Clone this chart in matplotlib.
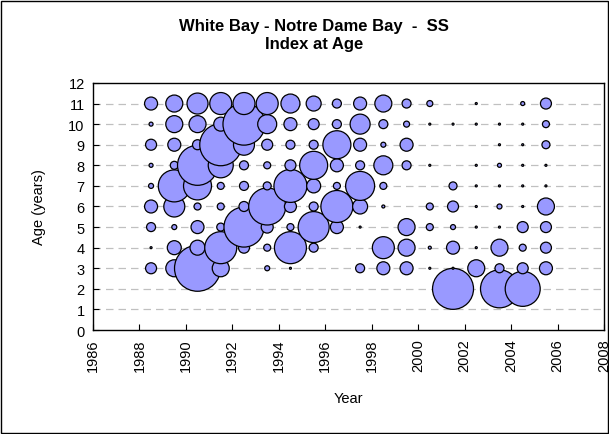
import numpy as np
import matplotlib
matplotlib.use("Agg")
import matplotlib.pyplot as plt
from matplotlib.patches import Rectangle

plt.rcParams['font.family'] = ['Liberation Sans', 'DejaVu Sans']

# survey years (bubbles sit at mid-year)
years = [1988.5, 1989.5, 1990.5, 1991.5, 1992.5, 1993.5, 1994.5, 1995.5, 1996.5,
         1997.5, 1998.5, 1999.5, 2000.5, 2001.5, 2002.5, 2003.5, 2004.5, 2005.5]
ages = [1, 2, 3, 4, 5, 6, 7, 8, 9, 10, 11]

# index at age, one list per age (0 = no catch)
idx_age1 = [0, 0, 0, 0, 0, 0, 0, 0, 0, 0, 0, 0, 0, 0, 0, 0, 0, 0]
idx_age2 = [0, 0, 0, 0, 0, 0, 0, 0, 0, 0, 0, 0, 0, 16.8, 0, 14.4, 12.25, 0]
idx_age3 = [1.21, 2.89, 21.16, 2.89, 0, 0.25, 0.04, 0, 0, 0.81, 1.69, 1.69, 0.04, 0.04, 2.89, 0.81, 1.21, 1.69]
idx_age4 = [0.04, 1.96, 2.25, 10.24, 1.21, 0.49, 10.24, 0.81, 0, 0, 4.84, 2.89, 0.09, 1.69, 0.04, 2.89, 0.49, 1.21]
idx_age5 = [0.81, 0.25, 1.69, 0.64, 16.0, 1.44, 0.49, 9.61, 1.69, 0.04, 0, 2.89, 0.49, 0.25, 0.04, 0.04, 1.21, 1.21]
idx_age6 = [1.69, 4.41, 0.49, 0.49, 1.0, 13.69, 1.44, 0.81, 10.24, 2.25, 0.09, 0, 0.49, 1.21, 0.04, 0.25, 0.04, 2.89]
idx_age7 = [0.25, 10.24, 7.84, 0.49, 0.81, 0.64, 10.89, 1.96, 0.49, 8.41, 0.49, 0, 0, 0.64, 0.04, 0.04, 0.04, 0.04]
idx_age8 = [0.16, 0.64, 16.0, 6.25, 0.81, 0.49, 1.21, 7.84, 1.69, 0.81, 3.61, 0.81, 0.04, 0, 0.04, 0.16, 0.04, 0.04]
idx_age9 = [1.21, 1.69, 1.0, 17.64, 4.41, 1.21, 0.81, 0.81, 7.84, 1.69, 0.25, 1.69, 0, 0, 0, 0.04, 0.04, 0.64]
idx_age10 = [0.16, 2.89, 2.89, 1.96, 17.64, 3.61, 1.69, 1.21, 0.81, 4.0, 0.81, 0.36, 0.04, 0.04, 0.04, 0.04, 0.04, 0.49]
idx_age11 = [1.69, 2.89, 4.41, 4.84, 4.84, 4.84, 3.61, 2.25, 0.81, 1.69, 2.89, 0.81, 0.36, 0, 0.04, 0, 0.16, 1.21]

index = np.array([idx_age1, idx_age2, idx_age3, idx_age4, idx_age5, idx_age6,
                  idx_age7, idx_age8, idx_age9, idx_age10, idx_age11])

# flatten year by year so later years draw on top
xs, ys, vals = [], [], []
for j, yr in enumerate(years):
    for i, ag in enumerate(ages):
        if index[i, j] > 0:
            xs.append(yr)
            ys.append(ag)
            vals.append(index[i, j])
vals = np.array(vals)

fig = plt.figure(figsize=(6.09, 4.35), dpi=100)
ax = fig.add_axes([0.1527, 0.239, 0.8391, 0.568])

# horizontal dashed gridlines
for g in range(1, 12):
    ax.axhline(g, color='#c0c0c0', linestyle=(0, (6, 4)), linewidth=0.9, zorder=0)

# bubble area proportional to index
ax.scatter(xs, ys, s=vals * 51.84, facecolor='#9999ff', edgecolor='black',
           linewidth=0.9, zorder=2)

ax.set_xlim(1986, 2008)
ax.set_ylim(0, 12)
ax.set_xticks(range(1986, 2009, 2))
ax.set_yticks(range(0, 13))
ax.tick_params(axis='x', direction='in', length=4, labelsize=10.5, labelrotation=90, pad=6)
ax.tick_params(axis='y', direction='in', length=4, labelsize=10.5, pad=6)
for sp in ax.spines.values():
    sp.set_linewidth(1.0)

ax.set_xlabel('Year', fontsize=10.5, labelpad=14)
ax.set_ylabel('Age (years)', fontsize=10.5, labelpad=16)

fig.text(0.516, 0.938, 'White Bay - Notre Dame Bay  -  SS', ha='center', va='center',
         fontsize=12, fontweight='bold')
fig.text(0.516, 0.897, 'Index at Age', ha='center', va='center',
         fontsize=12, fontweight='bold')

# chart area border
fig.patches.append(Rectangle((0.002, 0.002), 0.996, 0.994, transform=fig.transFigure,
                             fill=False, edgecolor='black', linewidth=1.0))

fig.savefig('out.png', dpi=100)
